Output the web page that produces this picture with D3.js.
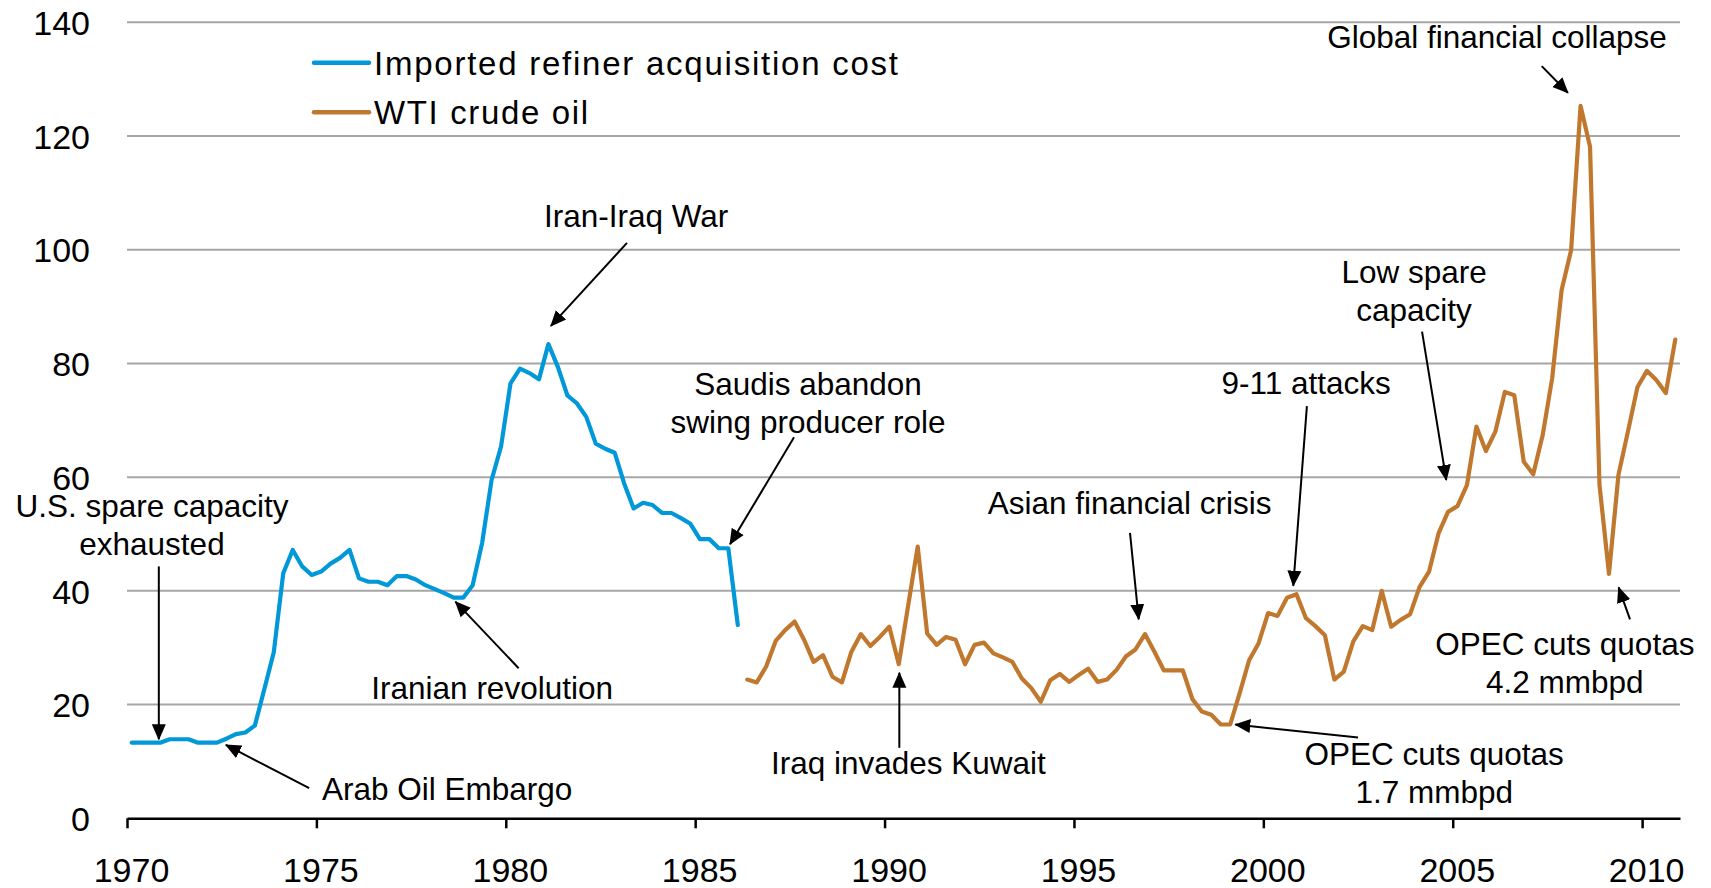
<!DOCTYPE html>
<html>
<head>
<meta charset="utf-8">
<title>Oil prices and events</title>
<script src="https://d3js.org/d3.v7.min.js"></script>
<style>
  body { margin: 0; background: #fff; }
  text { font-family: "Liberation Sans", Arial, sans-serif; fill: #000; }
  .grid line { stroke: #a6a6a6; stroke-width: 2px; }
</style>
</head>
<body>
<div id="chart"></div>
<script>
// quarterly values, first entry = first quarter shown
const importedStart = 1970;      // 1970 Q1
const importedCost = [
  13.3, 13.3, 13.3, 13.3,
  13.9, 13.9, 13.9, 13.3,
  13.3, 13.3, 14.0, 14.8,
  15.1, 16.3, 22.7, 29.2,
  43.1, 47.2, 44.3, 42.8,
  43.4, 44.8, 45.8, 47.2,
  42.2, 41.6, 41.6, 41.0,
  42.6, 42.6, 42.0, 41.0,
  40.3, 39.6, 38.8, 38.8,
  41.0, 48.4, 59.5, 65.4,
  76.5, 79.1, 78.3, 77.2,
  83.4, 79.4, 74.4, 73.0,
  70.6, 65.9, 65.0, 64.3,
  58.9, 54.5, 55.5, 55.1,
  53.7, 53.7, 52.8, 51.8,
  49.1, 49.1, 47.5, 47.5,
  34.0
];

const wtiStart = 1986.25;        // 1986 Q2
const wtiCrude = [
  24.4, 23.9, 26.7,
  31.2, 33.1, 34.6, 31.4,
  27.5, 28.7, 24.9, 23.9,
  29.3, 32.4, 30.3, 31.9,
  33.7, 27.1, 37.5, 47.8,
  32.5, 30.5, 31.9, 31.4,
  27.1, 30.5, 30.9, 29.0,
  28.3, 27.5, 24.6, 22.9,
  20.5, 24.3, 25.4, 24.0,
  25.2, 26.3, 24.0, 24.4,
  26.1, 28.5, 29.7, 32.4,
  29.3, 26.0, 26.0, 26.0,
  21.0, 18.8, 18.2, 16.5,
  16.5, 22.0, 27.8, 30.8,
  36.1, 35.6, 38.8, 39.4,
  35.2, 33.8, 32.2, 24.4,
  25.8, 31.1, 33.8, 33.1,
  40.0, 33.7, 34.9, 35.9,
  40.7, 43.4, 50.1, 53.9,
  54.9, 58.6, 68.9, 64.6,
  68.0, 75.0, 74.4, 62.7,
  60.5, 67.4, 77.4, 92.9,
  99.9, 125.3, 118.1, 58.6,
  43.0, 60.4, 68.0, 75.8,
  78.7, 77.1, 74.8, 84.2
];

const seriesNames = ["Imported refiner acquisition cost", "WTI crude oil"];
const seriesColors = ["#0098d8", "#c0782f"];

const xTicks = [1970, 1975, 1980, 1985, 1990, 1995, 2000, 2005, 2010];
const yTicks = [0, 20, 40, 60, 80, 100, 120, 140];

// annotations: text anchor (year, value), arrow from -> to (year, value)
const notes = [
  { lines: ["U.S. spare capacity", "exhausted"], at: [1970.66, 53.0], from: [1970.84, 44.3], to: [1970.84, 13.9] },
  { lines: ["Arab Oil Embargo"], at: [1978.45, 3.3], from: [1974.81, 5.3], to: [1972.61, 12.9] },
  { lines: ["Iranian revolution"], at: [1979.64, 20.9], from: [1980.34, 26.4], to: [1978.67, 38.1] },
  { lines: ["Iran-Iraq War"], at: [1983.44, 104.0], from: [1983.2, 101.2], to: [1981.19, 86.6] },
  { lines: ["Saudis abandon", "swing producer role"], at: [1987.98, 74.4], from: [1987.61, 67.0], to: [1985.92, 48.2] },
  { lines: ["Iraq invades Kuwait"], at: [1990.63, 7.8], from: [1990.39, 12.4], to: [1990.39, 25.6] },
  { lines: ["Asian financial crisis"], at: [1996.47, 53.6], from: [1996.48, 50.2], to: [1996.71, 35.0] },
  { lines: ["9-11 attacks"], at: [2001.13, 74.6], from: [2001.15, 72.5], to: [2000.79, 40.9] },
  { lines: ["Low spare", "capacity"], at: [2003.98, 94.1], from: [2004.19, 85.6], to: [2004.83, 59.5] },
  { lines: ["Global financial collapse"], at: [2006.17, 135.4], from: [2007.35, 132.3], to: [2008.04, 127.6] },
  { lines: ["OPEC cuts quotas", "4.2 mmbpd"], at: [2007.96, 28.7], from: [2009.68, 35.0], to: [2009.38, 40.6] },
  { lines: ["OPEC cuts quotas", "1.7 mmbpd"], at: [2004.51, 9.4], from: [2002.5, 14.2], to: [1999.26, 16.5] }
];

const width = 1711, height = 888;
const svg = d3.select("#chart").append("svg")
  .attr("width", width)
  .attr("height", height);

const x = d3.scaleLinear().domain([1970, 2011]).range([127, 1680]);
const y = d3.scaleLinear().domain([0, 140]).range([818.3, 22.3]);

// arrow head
svg.append("defs").append("marker")
  .attr("id", "arrow")
  .attr("markerUnits", "userSpaceOnUse")
  .attr("viewBox", "0 0 16 16")
  .attr("refX", 15).attr("refY", 8)
  .attr("markerWidth", 16).attr("markerHeight", 16)
  .attr("orient", "auto")
  .append("path")
  .attr("d", "M0,1 L16,8 L0,15 Z")
  .attr("fill", "#000");

// gridlines
svg.append("g").attr("class", "grid")
  .selectAll("line")
  .data(yTicks.filter(d => d > 0))
  .join("line")
  .attr("x1", x(1970)).attr("x2", x(2011))
  .attr("y1", d => y(d)).attr("y2", d => y(d));

// y axis labels
const yAxis = svg.append("g")
  .attr("transform", `translate(${x(1970)},0)`)
  .call(d3.axisLeft(y).tickValues(yTicks).tickSize(0).tickPadding(37));
yAxis.select(".domain").remove();
yAxis.selectAll("text")
  .attr("font-size", 34)
  .attr("font-family", "Liberation Sans, Arial, sans-serif")
  .attr("fill", "#000")
  .attr("dy", "0.36em");

// x axis
const xAxis = svg.append("g")
  .attr("transform", `translate(0,${y(0)})`)
  .call(d3.axisBottom(x).tickValues(xTicks).tickFormat(d3.format("d")).tickSize(10).tickSizeOuter(0).tickPadding(30));
xAxis.select(".domain").attr("stroke", "#000").attr("stroke-width", 2.5);
xAxis.selectAll(".tick line").attr("stroke", "#000").attr("stroke-width", 2.5);
xAxis.selectAll("text")
  .attr("font-size", 34)
  .attr("font-family", "Liberation Sans, Arial, sans-serif")
  .attr("fill", "#000")
  .attr("dx", 4);

// series
const toPoints = (start, vals) => vals.map((v, i) => ({ t: start + i * 0.25 + 0.125, v }));
const series = [toPoints(importedStart, importedCost), toPoints(wtiStart, wtiCrude)];

const line = d3.line().x(d => x(d.t)).y(d => y(d.v));

svg.append("g")
  .selectAll("path")
  .data(series)
  .join("path")
  .attr("d", line)
  .attr("fill", "none")
  .attr("stroke", (d, i) => seriesColors[i])
  .attr("stroke-width", 4.2)
  .attr("stroke-linejoin", "round")
  .attr("stroke-linecap", "round");

// legend
const legendLens = [524, 214];
const legend = svg.append("g")
  .selectAll("g")
  .data(seriesNames)
  .join("g")
  .attr("transform", (d, i) => `translate(314,${62.7 + i * 49.6})`);
legend.append("line")
  .attr("x1", 0).attr("x2", 55)
  .attr("stroke", (d, i) => seriesColors[i])
  .attr("stroke-width", 4.5)
  .attr("stroke-linecap", "round");
legend.append("text")
  .attr("x", 60).attr("y", 12)
  .attr("font-size", 33)
  .attr("textLength", (d, i) => legendLens[i])
  .attr("lengthAdjust", "spacing")
  .text(d => d);

// annotations
const ann = svg.append("g");
ann.selectAll("line")
  .data(notes)
  .join("line")
  .attr("x1", d => x(d.from[0])).attr("y1", d => y(d.from[1]))
  .attr("x2", d => x(d.to[0])).attr("y2", d => y(d.to[1]))
  .attr("stroke", "#000")
  .attr("stroke-width", 2)
  .attr("marker-end", "url(#arrow)");

ann.selectAll("text")
  .data(notes)
  .join("text")
  .attr("text-anchor", "middle")
  .attr("font-size", 31.5)
  .attr("x", d => x(d.at[0]))
  .attr("y", d => y(d.at[1]))
  .selectAll("tspan")
  .data(d => d.lines.map(l => ({ l, cx: x(d.at[0]) })))
  .join("tspan")
  .attr("x", d => d.cx)
  .attr("dy", (d, i) => i === 0 ? 0 : 37.8)
  .text(d => d.l);
</script>
</body>
</html>
